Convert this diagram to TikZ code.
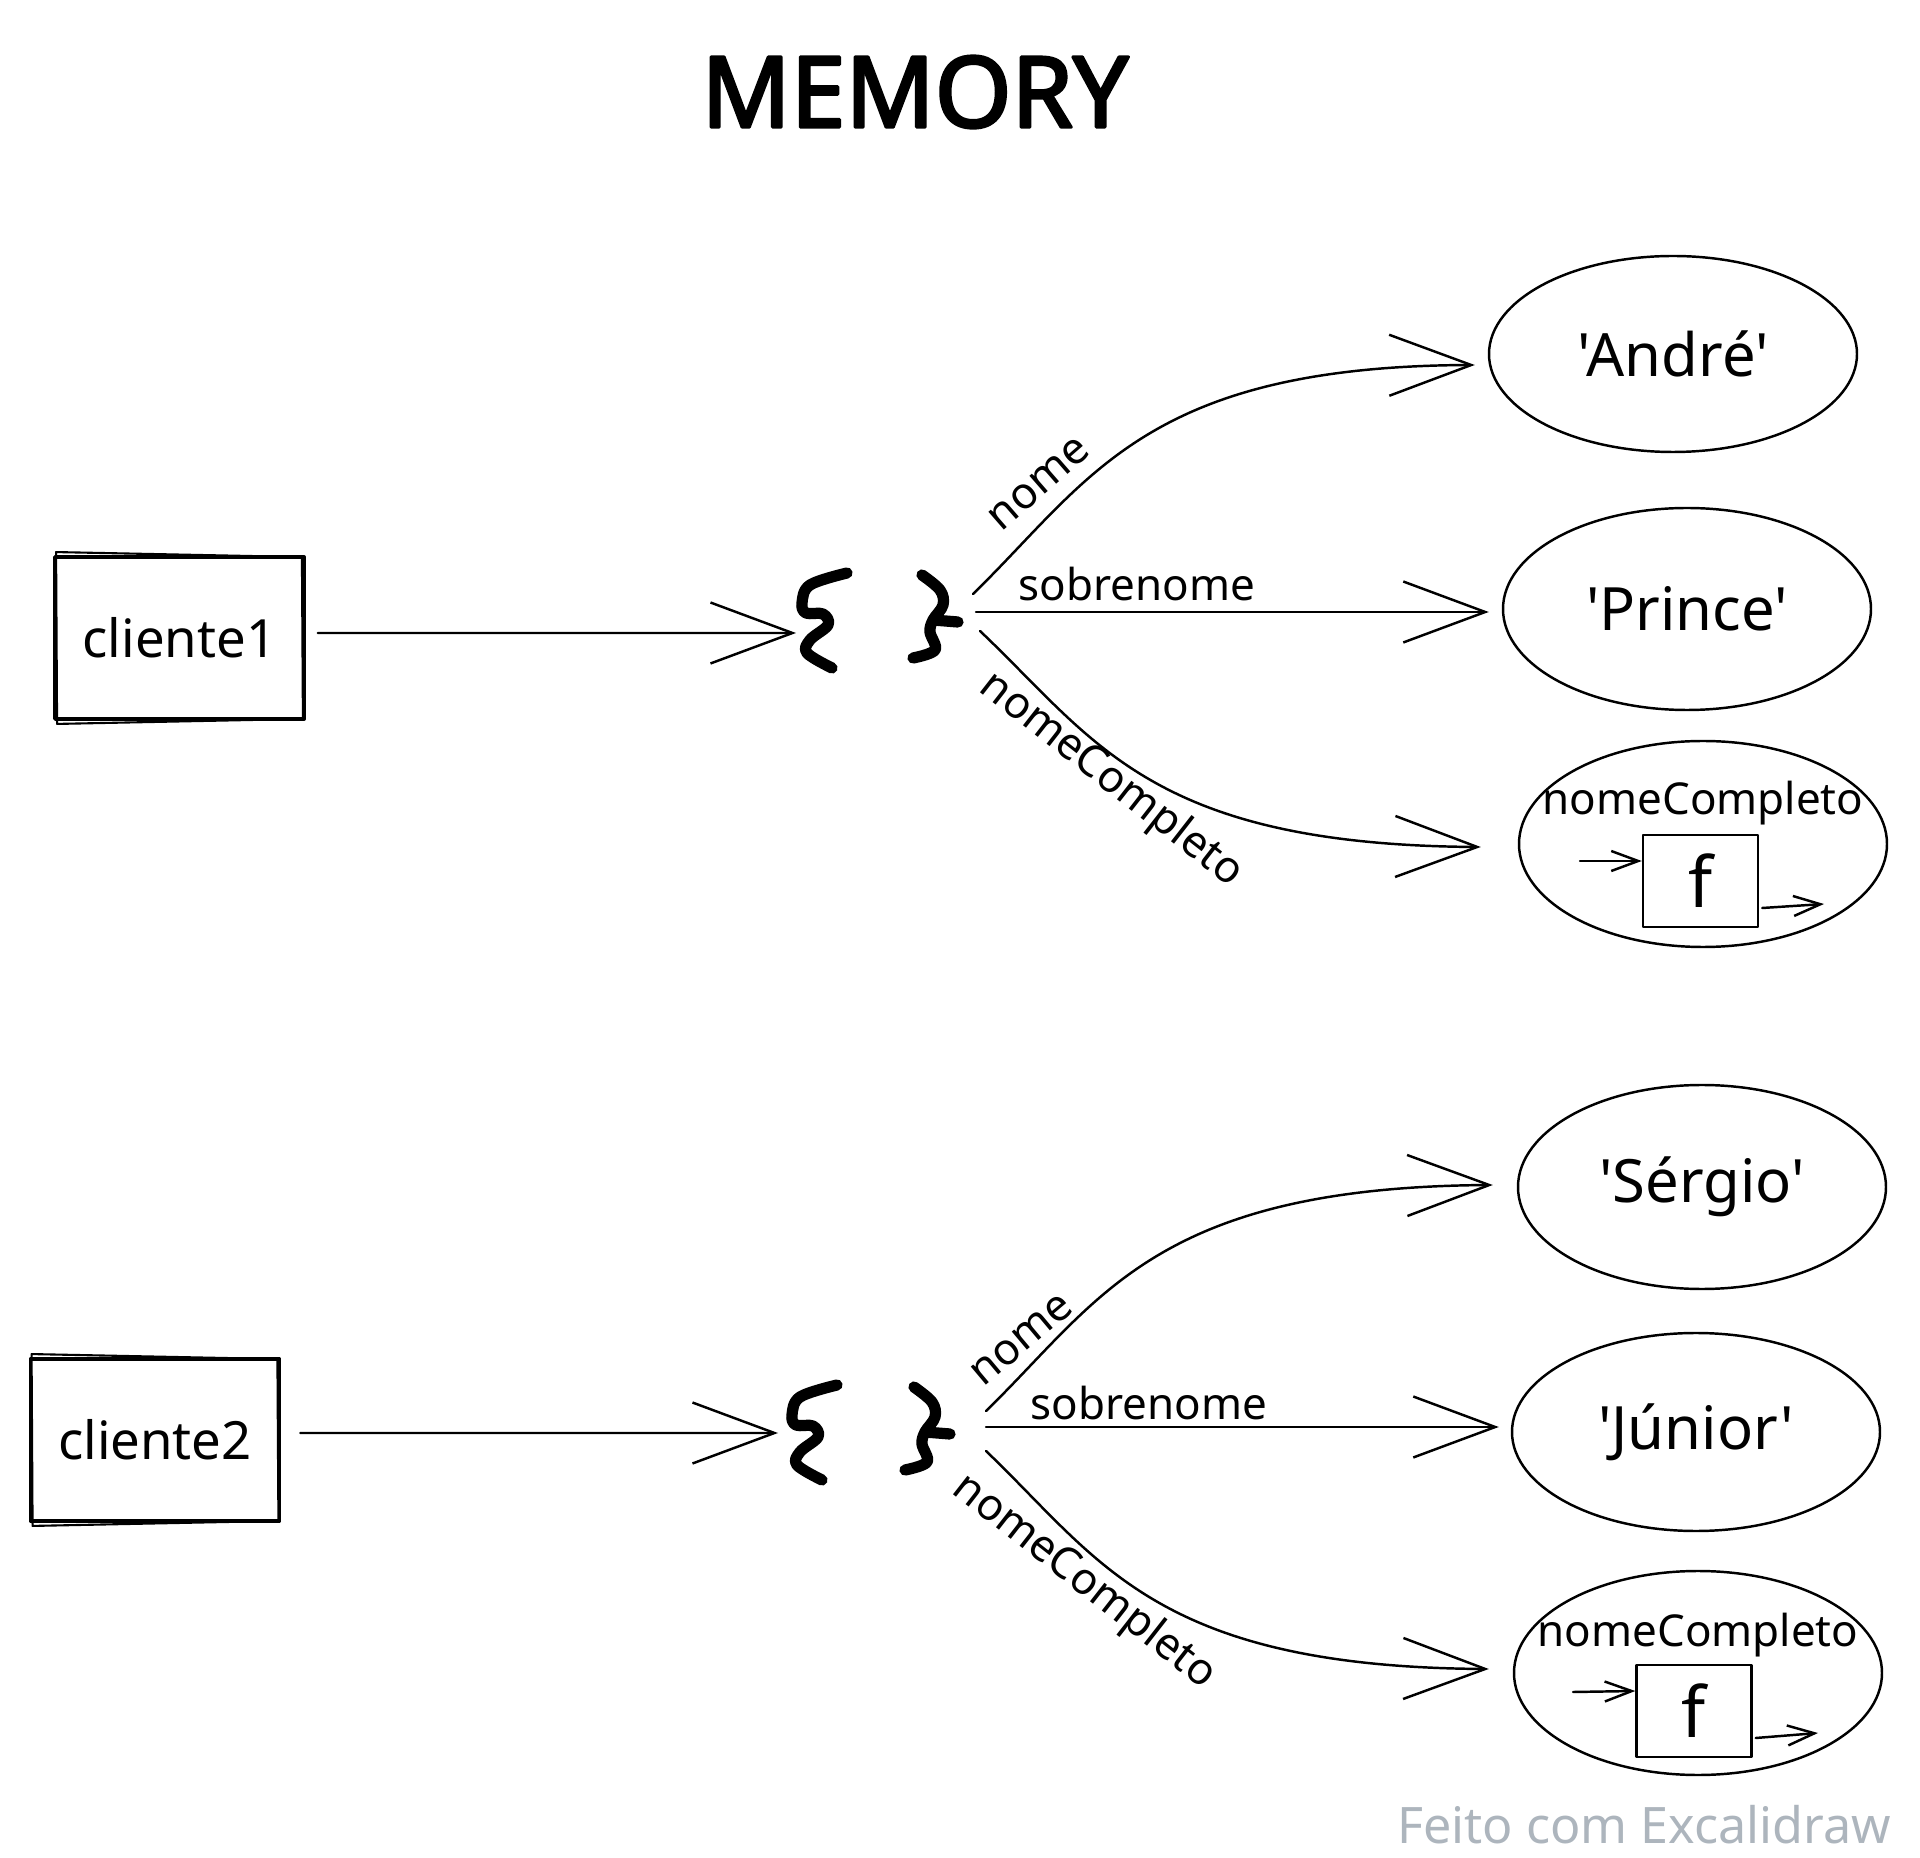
\documentclass[tikz,border=0pt]{standalone}
\usepackage{fontspec}
\setmainfont{Noto Sans}[Ligatures=TeXOff]
\newfontfamily\titlefont{Noto Sans}[FakeBold=3]
\usetikzlibrary{arrows.meta,shapes.geometric,calc}
\definecolor{footgray}{HTML}{ADB5BD}
\begin{document}
\begin{tikzpicture}[x=0.1mm,y=-0.1mm,
  line width=0.7pt, line cap=round, line join=round,
  bigtip/.style={-{Straight Barb[length=8.2mm,width=6.1mm]}},
  smalltip/.style={-{Straight Barb[length=2.7mm,width=2mm]}},
  varbox/.style={draw, line width=1.1pt, minimum width=24.9mm, minimum height=16.2mm, inner sep=0pt, font=\fontsize{15}{18}\selectfont},
  valnode/.style={draw, ellipse, inner sep=0pt, minimum width=36.8mm, font=\fontsize{17}{20}\selectfont},
  lbl/.style={inner sep=1pt, font=\fontsize{12.5}{15}\selectfont},
  fbox/.style={draw, minimum width=11.5mm, minimum height=9.2mm, inner sep=0pt, font=\fontsize{20}{24}\selectfont},
  bracestroke/.style={line width=3.2pt, line cap=round, line join=round},
]
\useasboundingbox (0,0) rectangle (1920,1858);

% title
\node[font=\fontsize{28}{32}\titlefont] (title) at (915,92) {MEMORY};

% ---------- object 1 ----------
\node[varbox] (c1) at (179.5,638) {cliente1};
\draw[line width=0.6pt] ($(c1.north west)+(3,-3)$) -- ($(c1.north east)+(-4,2)$) -- ($(c1.south east)+(-3,-2)$) -- ($(c1.south west)+(4,3)$) -- cycle;

\coordinate (o1in) at (796,633);
\coordinate (o1n) at (973,594);
\coordinate (o1s) at (976,612);
\coordinate (o1c) at (980,631);
\draw[bracestroke] plot[smooth, tension=0.6] coordinates {(847,573) (810,585) (802,603) (806,613) (823,614) (828,625) (810,640) (807,653) (832,668)};
\draw[bracestroke] plot[smooth, tension=0.6] coordinates {(922,575) (940,590) (943,605) (933,620) (930,632) (935,650) (913,658)};
\draw[bracestroke] (933,620) -- (958,622);

\draw[bigtip] ([xshift=1.2mm,yshift=0.5mm]c1.east) -- (o1in);

\node[valnode, minimum height=19.6mm] (andre) at (1673,354) {'André'};
\node[valnode, minimum height=20.2mm] (prince) at (1687,609) {'Prince'};
\node[valnode, minimum height=20.6mm] (nc1) at (1703,844) {};
\node[lbl] (nc1t) at (1703,803) {nomeCompleto};
\node[fbox] (f1) at (1700.5,881) {f};
\coordinate (f1in) at (1580,861);
\coordinate (f1out) at (1824,904);
\draw[smalltip] (f1in) -- ($(f1.west)+(0,-20)$);
\draw[smalltip] ($(f1.east)+(3,27)$) -- (f1out);

\draw[bigtip] (o1n) .. controls (1090,480) and (1145,366) .. ($(andre.west)+(-13,11)$);
\draw[bigtip] (o1s) -- ($(prince.west)+(-13,3)$);
\draw[bigtip] (o1c) .. controls (1095,740) and (1150,845) .. ($(nc1.west)+(-37,3)$);

\node[lbl, rotate=41] (l1) at (1039,484) {nome};
\node[lbl] (s1) at (1137,584) {sobrenome};
\node[lbl, rotate=-38] (k1) at (1111,780) {nomeCompleto};

% ---------- object 2 ----------
\node[varbox] (c2) at (155,1440) {cliente2};
\draw[line width=0.6pt] ($(c2.north west)+(3,-3)$) -- ($(c2.north east)+(-4,2)$) -- ($(c2.south east)+(-3,-2)$) -- ($(c2.south west)+(4,3)$) -- cycle;

\coordinate (o2in) at (778,1433);
\coordinate (o2n) at (986,1411);
\coordinate (o2s) at (986,1427);
\coordinate (o2c) at (986,1451);
\begin{scope}[shift={(-10,812)}]
\draw[bracestroke] plot[smooth, tension=0.6] coordinates {(847,573) (810,585) (802,603) (806,613) (823,614) (828,625) (810,640) (807,653) (832,668)};
\end{scope}
\begin{scope}[shift={(-8,812)}]
\draw[bracestroke] plot[smooth, tension=0.6] coordinates {(922,575) (940,590) (943,605) (933,620) (930,632) (935,650) (913,658)};
\draw[bracestroke] (933,620) -- (958,622);
\end{scope}

\draw[bigtip] ([xshift=1.9mm,yshift=0.7mm]c2.east) -- (o2in);

\node[valnode, minimum height=20.4mm] (sergio) at (1702,1187) {'Sérgio'};
\node[valnode, minimum height=19.8mm] (junior) at (1696,1432) {'Júnior'};
\node[valnode, minimum height=20.4mm] (nc2) at (1698,1673) {};
\node[lbl] (nc2t) at (1698,1635) {nomeCompleto};
\node[fbox] (f2) at (1694,1711) {f};
\coordinate (f2in) at (1573,1692);
\coordinate (f2out) at (1818,1733);
\draw[smalltip] (f2in) -- ($(f2.west)+(0,-20)$);
\draw[smalltip] ($(f2.east)+(3,27)$) -- (f2out);

\draw[bigtip] (o2n) .. controls (1100,1300) and (1155,1187) .. ($(sergio.west)+(-24,-2)$);
\draw[bigtip] (o2s) -- ($(junior.west)+(-12,-5)$);
\draw[bigtip] (o2c) .. controls (1100,1560) and (1155,1667) .. ($(nc2.west)+(-24,-4)$);

\node[lbl, rotate=40] (l2) at (1022,1340) {nome};
\node[lbl] (s2) at (1149,1403) {sobrenome};
\node[lbl, rotate=-38] (k2) at (1084,1582) {nomeCompleto};

% footer
\node[text=footgray, font=\fontsize{14.3}{17}\selectfont] (foot) at (1644,1825) {Feito com Excalidraw};
\end{tikzpicture}
\end{document}
